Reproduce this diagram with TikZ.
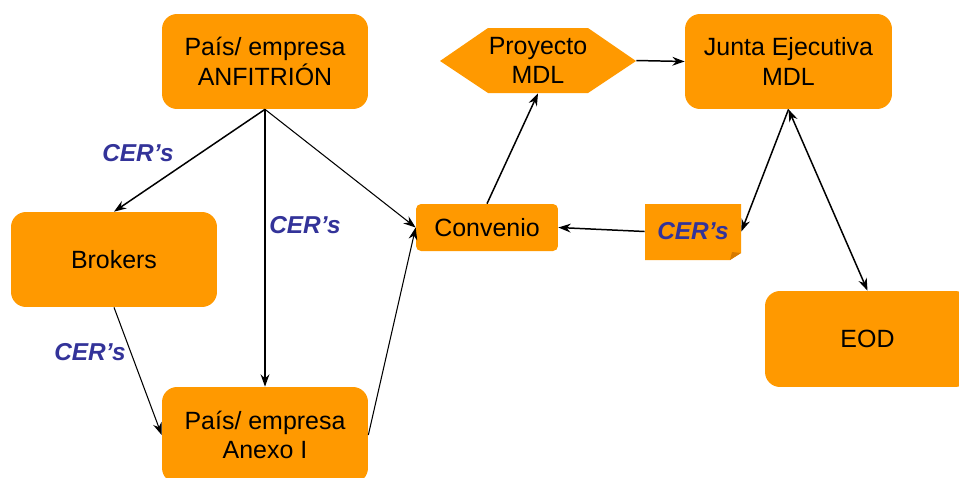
\documentclass[tikz,border=0pt]{standalone}
\usepackage{fontspec}
\setmainfont{Liberation Sans}
\usetikzlibrary{arrows.meta}
\definecolor{boxorange}{RGB}{255,153,0}
\definecolor{folddark}{RGB}{214,122,0}
\definecolor{cerblue}{RGB}{51,51,153}
\begin{document}
\begin{tikzpicture}[x=0.02cm,y=-0.02cm,
  box/.style={fill=boxorange, rounded corners=0.3cm, align=center,
    font=\fontsize{14.2}{16.8}\selectfont, inner sep=0pt},
  cer/.style={text=cerblue, font=\fontsize{13.9}{16}\selectfont\bfseries\itshape},
  heavy/.style={line width=0.85pt, -{Stealth[length=7pt,width=5pt]}},
  light/.style={line width=0.6pt, -{Stealth[length=7pt,width=5pt]}}]
\useasboundingbox (0,0) rectangle (959,477);
\begin{scope}
\clip (0,0) rectangle (959,477);
% main boxes
\node[box, minimum width=4.12cm, minimum height=1.9cm] (anf) at (265,61.5) {País/ empresa\\ANFITRIÓN};
\node[box, minimum width=4.14cm, minimum height=1.9cm] (junta) at (788.5,61.5) {Junta Ejecutiva\\MDL};
\node[box, minimum width=4.12cm, minimum height=1.9cm] (brok) at (114,259.5) {Brokers};
\node[box, minimum width=4.12cm, minimum height=1.92cm] (anexo) at (265,435) {País/ empresa\\Anexo I};
\node[box, minimum width=4.1cm, minimum height=1.92cm] (eod) at (867.5,339) {EOD};
\node[box, rounded corners=0.1cm, minimum width=2.84cm, minimum height=0.94cm] (conv) at (487,227.5) {Convenio};
% hexagon for the project
\fill[boxorange] (440,61) -- (488,28) -- (588,28) -- (636,61) -- (588,93) -- (488,93) -- cycle;
\node[align=center, font=\fontsize{14.2}{16.8}\selectfont, inner sep=0pt,
  minimum width=3.92cm, minimum height=1.3cm] (proj) at (538,60.5) {Proyecto\\MDL};
% sticky note with folded corner
\fill[boxorange] (645,204) -- (741,204) -- (741,253) -- (730,260) -- (645,260) -- cycle;
\fill[folddark] (741,253) -- (730,260) -- (732,252) -- cycle;
\node[cer, inner sep=0pt, minimum width=1.92cm, minimum height=1.1cm] (note) at (693,231.5) {CER’s};
\end{scope}
% connectors
\draw[heavy] (anf.south) -- (brok.north);
\draw[heavy] (anf.south) -- (anexo.north);
\draw[light] (anf.south) -- (conv.west);
\draw[light] (brok.south) -- (anexo.west);
\draw[light] (anexo.east) -- (conv.west);
\draw[heavy] (conv.north) -- (proj.south);
\draw[heavy] (proj.east) -- (junta.west);
\draw[heavy] (note.west) -- (conv.east);
\draw[heavy] (junta.south) -- (note.east);
\draw[line width=0.85pt, {Stealth[length=7pt,width=5pt]}-{Stealth[length=7pt,width=5pt]}] (junta.south) -- (eod.north);
% flow labels
\node[cer] (c1) at (138,153) {CER’s};
\node[cer] (c2) at (305,225) {CER’s};
\node[cer] (c3) at (90,352) {CER’s};
\end{tikzpicture}
\end{document}
